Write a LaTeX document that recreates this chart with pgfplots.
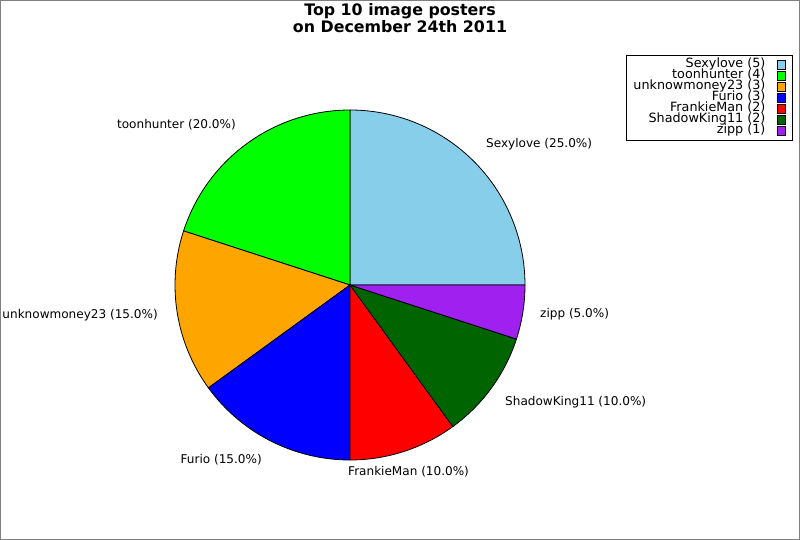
\documentclass[border=0pt]{standalone}
\usepackage{pgfplots}
\pgfplotsset{compat=1.18}
\usepackage{fontspec}
\setmainfont{DejaVu Sans}
\definecolor{cSexy}{RGB}{135,206,235}
\definecolor{cToon}{RGB}{0,255,0}
\definecolor{cUnk}{RGB}{255,165,0}
\definecolor{cFur}{RGB}{0,0,255}
\definecolor{cFra}{RGB}{255,0,0}
\definecolor{cSha}{RGB}{0,100,0}
\definecolor{cZip}{RGB}{160,32,240}
\definecolor{frame}{RGB}{128,128,128}
% counts: Sexylove 5, toonhunter 4, unknowmoney23 3, Furio 3, FrankieMan 2, ShadowKing11 2, zipp 1 (total 20)
% slice angles (degrees, counter-clockwise from east) = cumulative count * 18
\begin{document}
\begin{tikzpicture}
\begin{axis}[
  width=800bp, height=540bp, scale only axis,
  xmin=0, xmax=800, ymin=0, ymax=540,
  hide axis, clip=false,
  legend plot pos=right,
  legend cell align=right,
  legend image code/.code={\draw[#1,line width=0.8bp] (0bp,-4.5bp) rectangle (7.5bp,4.5bp);},
  legend style={at={(axis cs:626,485)}, anchor=north west,
    draw=black, line width=0.9bp, inner xsep=7bp, inner ysep=4bp,
    font=\fontsize{12.8}{11}\selectfont,
    nodes={inner sep=0pt, text height=8.5bp, text depth=2.5bp},
    column sep=12bp, row sep=0pt},
]
\addplot[fill=cSexy, draw=black, line width=0.8bp, domain=0:90, samples=60] ({350+175*cos(x)},{255+175*sin(x)}) -- (axis cs:350,255) -- cycle;
\addlegendentry{Sexylove (5)}
\addplot[fill=cToon, draw=black, line width=0.8bp, domain=90:162, samples=50] ({350+175*cos(x)},{255+175*sin(x)}) -- (axis cs:350,255) -- cycle;
\addlegendentry{toonhunter (4)}
\addplot[fill=cUnk, draw=black, line width=0.8bp, domain=162:216, samples=40] ({350+175*cos(x)},{255+175*sin(x)}) -- (axis cs:350,255) -- cycle;
\addlegendentry{unknowmoney23 (3)}
\addplot[fill=cFur, draw=black, line width=0.8bp, domain=216:270, samples=40] ({350+175*cos(x)},{255+175*sin(x)}) -- (axis cs:350,255) -- cycle;
\addlegendentry{Furio (3)}
\addplot[fill=cFra, draw=black, line width=0.8bp, domain=270:306, samples=30] ({350+175*cos(x)},{255+175*sin(x)}) -- (axis cs:350,255) -- cycle;
\addlegendentry{FrankieMan (2)}
\addplot[fill=cSha, draw=black, line width=0.8bp, domain=306:342, samples=30] ({350+175*cos(x)},{255+175*sin(x)}) -- (axis cs:350,255) -- cycle;
\addlegendentry{ShadowKing11 (2)}
\addplot[fill=cZip, draw=black, line width=0.8bp, domain=342:360, samples=20] ({350+175*cos(x)},{255+175*sin(x)}) -- (axis cs:350,255) -- cycle;
\addlegendentry{zipp (1)}

\begin{scope}[every node/.style={font=\fontsize{12.1}{13}\selectfont, inner sep=0pt}]
\node[anchor=west] at (axis cs:486,396) {Sexylove (25.0\%)};
\node[anchor=east] at (axis cs:236,415) {toonhunter (20.0\%)};
\node[anchor=east] at (axis cs:158,225) {unknowmoney23 (15.0\%)};
\node[anchor=east] at (axis cs:262,80) {Furio (15.0\%)};
\node[anchor=west] at (axis cs:348,68) {FrankieMan (10.0\%)};
\node[anchor=west] at (axis cs:505,138) {ShadowKing11 (10.0\%)};
\node[anchor=west] at (axis cs:540,226) {zipp (5.0\%)};
\end{scope}
\node[align=center, inner sep=0pt, font=\bfseries\fontsize{15.9}{13}\selectfont] at (axis cs:400,522) {Top 10 image posters\\on December 24th 2011};
\draw[frame, line width=1bp] (axis cs:0.5,0.5) rectangle (axis cs:799.5,539.5);
\end{axis}
\end{tikzpicture}
\end{document}
